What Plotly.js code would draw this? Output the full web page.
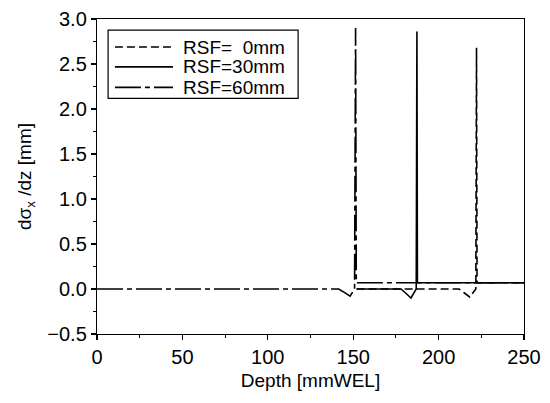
<!DOCTYPE html>
<html>
<head>
<meta charset="utf-8">
<script src="https://cdn.plot.ly/plotly-3.0.1.min.js"></script>
<style>
  html, body { margin: 0; padding: 0; background: #fff; }
  #chart { width: 550px; height: 403px; }
</style>
</head>
<body>
<div id="chart"></div>
<script>
// Depth (mm water-equivalent length) and d(sigma_x)/dz (mm) for each range shifter
const seriesNames = ['RSF=\u20070mm', 'RSF=30mm', 'RSF=60mm'];

const depthRsf0  = [152, 212, 215.5, 218.3, 221.8, 222.2, 222.5, 250];
const dsigRsf0   = [0,   0,   -0.05, -0.09, 0.0,   2.68,  0.07,  0.07];

const depthRsf30 = [152, 178, 181.0, 183.8, 186.9, 187.3, 187.6, 250];
const dsigRsf30  = [0,   0,   -0.05, -0.10, 0.0,   2.86,  0.07,  0.07];

const depthRsf60 = [0,   141.5, 145.0, 148.2, 150.8, 151.4, 151.8, 250];
const dsigRsf60  = [0,   0,     -0.04, -0.08, 0.0,   2.90,  0.07,  0.07];

const xTickVals = [0, 50, 100, 150, 200, 250];
const yTickVals = [-0.5, 0.0, 0.5, 1.0, 1.5, 2.0, 2.5, 3.0];

const FONT = 'Liberation Sans, Arial, Helvetica, sans-serif';
const dashStyles = ['8px,4px', 'solid', '26px,4px,5px,4px'];
const xs = [depthRsf0, depthRsf30, depthRsf60];
const ys = [dsigRsf0, dsigRsf30, dsigRsf60];

const traces = seriesNames.map((name, i) => ({
  type: 'scatter',
  mode: 'lines',
  name: name,
  x: xs[i],
  y: ys[i],
  line: { color: '#000', width: 1.6, dash: dashStyles[i] },
  showlegend: false,
  hoverinfo: 'skip'
}));

// Legend box drawn in paper coordinates
const legendRowsY = [0.911, 0.848, 0.783];
const shapes = [{
  type: 'rect', xref: 'paper', yref: 'paper',
  x0: 0.026, x1: 0.471, y0: 0.748, y1: 0.965,
  line: { color: '#000', width: 1.2 }, fillcolor: '#fff'
}];
const annotations = [];
seriesNames.forEach((name, i) => {
  shapes.push({
    type: 'line', xref: 'paper', yref: 'paper',
    x0: 0.042, x1: 0.178, y0: legendRowsY[i], y1: legendRowsY[i],
    line: { color: '#000', width: 1.6, dash: dashStyles[i] }
  });
  annotations.push({
    xref: 'paper', yref: 'paper', x: 0.196, y: legendRowsY[i],
    xanchor: 'left', yanchor: 'middle', showarrow: false,
    text: name, font: { family: FONT, size: 19, color: '#000' }
  });
});

const axisCommon = {
  showgrid: false, zeroline: false,
  showline: true, mirror: true, linecolor: '#000', linewidth: 1.2,
  ticks: 'outside', ticklen: 5, tickwidth: 1.2, tickcolor: '#000',
  tickfont: { family: FONT, size: 20, color: '#000' }
};

const layout = {
  width: 550, height: 403,
  margin: { l: 97, r: 26, t: 19, b: 69 },
  paper_bgcolor: '#fff', plot_bgcolor: '#fff',
  font: { family: FONT, color: '#000' },
  xaxis: Object.assign({}, axisCommon, {
    range: [0, 250], tickvals: xTickVals,
    minor: { dtick: 25, tick0: 0, ticks: 'outside', ticklen: 3, tickcolor: '#000', tickwidth: 1 },
    title: { text: 'Depth [mmWEL]', font: { family: FONT, size: 19, color: '#000' }, standoff: 6 }
  }),
  yaxis: Object.assign({}, axisCommon, {
    range: [-0.5, 3.0], tickvals: yTickVals, tickformat: '.1f',
    minor: { dtick: 0.25, tick0: 0, ticks: 'outside', ticklen: 3, tickcolor: '#000', tickwidth: 1 },
    title: { text: 'd\u03c3<sub>x</sub> /dz [mm]', font: { family: FONT, size: 19, color: '#000' }, standoff: 10 }
  }),
  shapes: shapes,
  annotations: annotations
};

Plotly.newPlot('chart', traces, layout, { displayModeBar: false, staticPlot: true });
</script>
</body>
</html>
